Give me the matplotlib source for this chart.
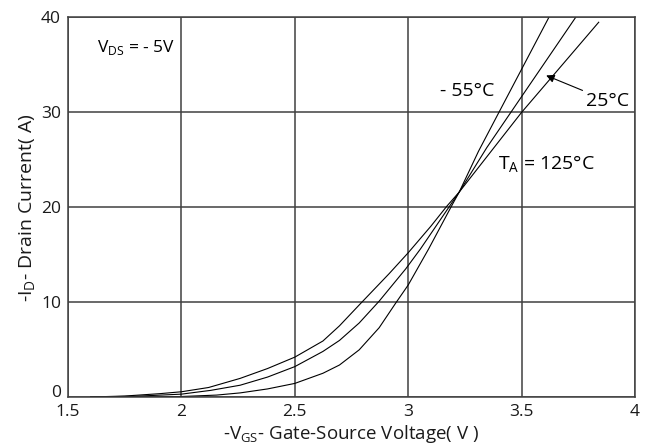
import matplotlib
matplotlib.use("Agg")
import matplotlib.pyplot as plt

plt.rcParams['font.family'] = ['Open Sans', 'DejaVu Sans']
plt.rcParams['mathtext.fontset'] = 'custom'
plt.rcParams['mathtext.rm'] = 'Open Sans'

# -VGS (V) and -ID (A), one set per temperature
vgs_m55 = [1.60, 1.90, 2.00, 2.155, 2.259, 2.38, 2.50, 2.624, 2.697, 2.784, 2.872, 2.945,
           3.00, 3.09, 3.195, 3.225, 3.31, 3.40, 3.62]
id_m55 = [0.0, 0.02, 0.05, 0.2, 0.43, 0.85, 1.43, 2.5, 3.37, 4.97, 7.3, 9.9,
          11.8, 15.6, 20.3, 21.6, 25.9, 30.0, 40.0]

vgs_25 = [1.60, 1.80, 2.00, 2.13, 2.259, 2.38, 2.50, 2.624, 2.697, 2.784, 2.872, 2.989,
          3.054, 3.185, 3.225, 3.347, 3.444, 3.738]
id_25 = [0.0, 0.08, 0.3, 0.7, 1.24, 2.1, 3.2, 4.8, 5.96, 7.8, 10.1, 13.5,
         15.6, 20.2, 21.6, 26.3, 29.7, 40.0]

vgs_125 = [1.60, 1.75, 1.905, 2.00, 2.12, 2.259, 2.38, 2.50, 2.624, 2.697, 2.784, 2.916,
           3.00, 3.10, 3.17, 3.225, 3.50, 3.84]
id_125 = [0.0, 0.1, 0.35, 0.55, 1.0, 1.96, 3.0, 4.2, 5.9, 7.5, 9.7, 13.0,
          15.2, 18.0, 20.1, 21.6, 30.0, 39.5]

x_ticks = [1.5, 2, 2.5, 3, 3.5, 4]
x_tick_labels = ['1.5', '2', '2.5', '3', '3.5', '4']
y_ticks = [0, 10, 20, 30, 40]

fig = plt.figure(figsize=(6.45, 4.46), dpi=100)
ax = fig.add_axes([0.1054, 0.1099, 0.8791, 0.8509])

ax.plot(vgs_m55, id_m55, color='black', linewidth=0.8, solid_joinstyle='round')
ax.plot(vgs_25, id_25, color='black', linewidth=0.8, solid_joinstyle='round')
ax.plot(vgs_125, id_125, color='black', linewidth=0.8, solid_joinstyle='round')

ax.set_xlim(1.5, 4)
ax.set_ylim(0, 40)
ax.set_xticks(x_ticks)
ax.set_xticklabels(x_tick_labels)
ax.set_yticks(y_ticks)
ax.tick_params(length=0, labelsize=12.5, colors='#1a1a1a')
ax.tick_params(axis='x', pad=5)
ax.tick_params(axis='y', pad=5)
# the "0" sits on the axis line in the original, clear of "1.5"
ax.get_yticklabels()[0].set_verticalalignment('baseline')
ax.grid(True, color='#404040', linewidth=1.1)
ax.set_axisbelow(True)
for s in ax.spines.values():
    s.set_color('#404040')
    s.set_linewidth(1.1)

ax.set_xlabel(r'-V$_\mathregular{GS}$- Gate-Source Voltage( V )', fontsize=13.5, labelpad=2, color='#1a1a1a')
ax.set_ylabel(r'-I$_\mathregular{D}$- Drain Current( A)', fontsize=14, labelpad=2, color='#1a1a1a')

ax.text(1.80, 36.8, r'V$_\mathregular{DS}$ = - 5V', fontsize=12.5, ha='center', va='center')
ax.text(3.26, 32.2, '- 55°C', fontsize=14, ha='center', va='center')
ax.text(3.88, 31.2, '25°C', fontsize=14, ha='center', va='center')
ax.text(3.61, 24.5, r'T$_\mathregular{A}$ = 125°C', fontsize=14, ha='center', va='center')
ax.annotate('', xy=(3.597, 34.0), xytext=(3.78, 32.2),
            arrowprops=dict(arrowstyle='-|>', color='black', lw=0.8, mutation_scale=12))

fig.savefig('out.png', dpi=100)
